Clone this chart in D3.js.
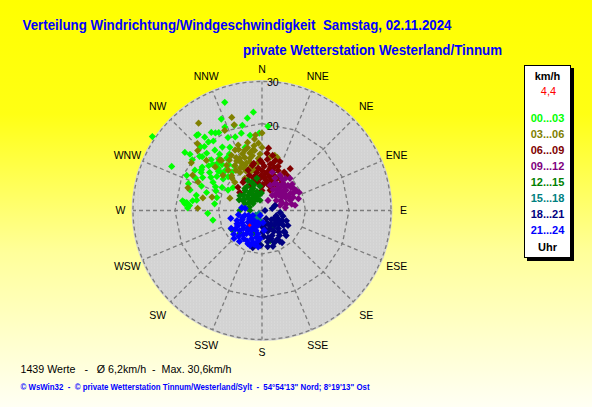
<!DOCTYPE html>
<html><head><meta charset="utf-8">
<script src="https://cdn.jsdelivr.net/npm/d3@7"></script>
<style>html,body{margin:0;padding:0;overflow:hidden;background:#ffff00}svg{display:block}</style>
</head><body>
<svg id="chart" width="592" height="407"></svg>
<script>
// ---------- DATA ----------
const titleLine1 = "Verteilung Windrichtung/Windgeschwindigkeit  Samstag, 02.11.2024";
const titleLine2 = "private Wetterstation Westerland/Tinnum";
const footerLine1 = "1439 Werte   -   Ø 6,2km/h  -  Max. 30,6km/h";
const footerLine2 = "© WsWin32  -  © private Wetterstation Tinnum/Westerland/Sylt  -  54°54'13\" Nord; 8°19'13\" Ost";
const directionLabels = ["N","NNE","NE","ENE","E","ESE","SE","SSE","S","SSW","SW","WSW","W","WNW","NW","NNW"];
const speedTicks = [10, 20, 30];
const speedMax = 30;
const legendUnit = "km/h";
const currentSpeedLabel = "4,4";
const legendFooter = "Uhr";
const hourRanges = ["00...03","03...06","06...09","09...12","12...15","15...18","18...21","21...24"];

// [direction in degrees, speed in km/h]
const wind00_03 = [
[304,30.4],[336,23.0],[355,22.7],[347,20.1],[307,22.2],[296,23.1],[276,17.4],[279,15.2],[329,20.8],[320,22.8],[341,26.3],[4,19.4],[259,11.5],[267,12.5],[276,17.9],[308,8.5],[314,14.0],
[319,22.9],[327,21.4],[336,21.0],[342,20.6],[345,18.4],[351,17.5],[358,17.8],[345,15.0],[322,20.0],[316,18.3],[306,19.8],[301,18.0],[299,15.6],[300,13.0],[300,10.6],[301,9.1],[286,17.2],[278,16.1],[288,13.4],[286,10.8],[317,14.9],[326,14.5],[333,16.3],[328,17.2],[322,17.6],[313,12.6],[322,11.2],[306,14.9],[306,17.0],[316,20.4],[322,21.4],[340,18.0],[351,21.5],[275,17.8],[272,17.1],[278,11.0],[295,19.1],[277,18.4],[274,16.7],
[310,16.0],[312,13.5],[318,12.5],[324,13.0],[309,11.5],[315,16.5],[320,15.5],[303,14.0],[297,12.0],[292,15.0],[311,19.0],[325,19.5],[330,15.0],[335,18.5],[318,19.8],[304,16.8],
[313,15.5],[319,14.0],[307,13.0],[315,11.0],[323,16.2],[328,12.0],[302,16.5],[296,17.0],[312,18.5],[331,20.5],[308,21.0],[290,18.0],[283,15.5],[293,11.5]
];
const wind03_06 = [
[324,24.8],[342,22.5],[0,17.8],[287,17.8],[272,14.8],
[336,15.2],[344,14.4],[353,13.9],[337,13.0],[347,12.3],[356,12.0],[329,12.1],[339,11.1],[349,10.6],[330,10.1],[343,9.2],[317,10.1],[332,8.4],[320,12.1],[340,16.0],[348,16.0],[357,15.5],[355,17.4],[9,12.4],[16,12.7],[352,9.3],[320,15.1],
[342,20.7],[335,20.3],[316,21.4],[313,20.2],[304,19.6],[297,17.9],[294,16.1],[312,17.2],[313,14.7],[321,14.8],[285,11.9],[291,7.9],[319,10.6],[312,12.1],[282,13.9],[316,9.0],[337,11.8],[342,12.8],[350,9.4],[351,14.0],[13,13.0],
[334,13.5],[341,13.8],[346,11.5],[338,9.8],[333,11.0],[327,13.8],[344,10.2],[350,12.8],[355,11.0],[336,12.2],
[331,14.5],[339,15.0],[347,14.8],[353,15.0],[333,12.8],[342,11.5],[348,13.5],[358,13.0],[345,9.8],[337,10.5],[327,11.0],[322,13.2],[354,16.5],[0,14.5]
];
const wind06_09 = [
[5,13.2],[20,12.0],[36,9.9],[341,9.8],[314,7.7],
[349,8.2],[0,9.2],[11,9.9],[22,9.9],[352,6.5],[8,7.0],[22,7.5],[36,7.9],[334,6.4],[0,4.6],[22,5.0],[335,3.8],[330,8.0],[358,11.5],[15,11.9],[34,11.6],[16,10.3],[348,10.6],[309,6.6],[326,7.8],[11,12.9],[6,14.4],
[5,8.5],[12,8.0],[2,6.0],[15,6.0],[28,9.0],[357,7.5],[345,6.8],[10,10.8],[28,6.8],[18,8.6],[0,11.0],[355,9.8],
[3,10.2],[8,9.0],[14,9.5],[20,10.8],[25,8.2],[30,10.2],[350,11.0],[352,8.8],[358,8.0],[4,7.5],[10,6.4],[17,7.2],[24,6.2],[32,8.3],[340,8.6],[345,7.8],[359,5.5],[6,11.8],[13,11.2]
];
const wind09_12 = [
[61,8.2],[38,7.9],[59,7.6],[74,4.3],[15,9.1],
[22,8.0],[36,9.1],[18,6.1],[36,6.3],[46,8.3],[60,9.1],[34,4.2],[57,5.5],[70,6.9],[72,8.8],[69,3.2],[31,2.7],[83,5.4],[81,7.7],[27,9.1],[41,9.8],[64,9.5],[55,4.0],
[45,6.0],[50,7.2],[40,5.0],[30,7.0],[52,8.5],[65,7.0],[28,5.4],[44,7.6],[75,5.8],[58,6.5],
[33,8.5],[39,7.0],[48,6.8],[53,6.0],[62,6.2],[67,7.8],[56,8.9],[49,9.2],[42,4.6],[63,4.8],[78,7.0],[35,5.8],[25,6.8],[70,5.0],[47,5.2]
];
const wind12_15 = [
[340,6.9],[298,5.0],[238,8.2],[183,7.9],
[322,6.4],[338,5.5],[355,5.6],[304,6.1],[317,4.7],[338,3.7],[292,4.2],[308,2.6],[349,2.4],[270,5.1],[270,2.8],[351,7.5],[335,7.6],
[224,7.3],[165,7.2],[205,3.8],[180,2.8],
[325,5.0],[315,3.3],[330,4.4],[345,4.5],[300,3.5],[320,6.0],[285,3.0],[200,5.5],[150,4.5],
[328,6.5],[333,5.2],[343,6.2],[348,3.6],[310,5.5],[312,4.2],[326,3.6],[302,4.8],[295,5.8],[318,2.9],[358,4.0],[336,2.8]
];
const wind15_18 = [
[220,2.0],[230,2.5],[210,1.5],[240,3.0],[215,3.2],[225,1.0],[200,2.2],[235,1.8]
];
const wind18_21 = [
[158,6.2],[194,8.8],[167,6.4],[134,7.3],
[90,0.7],[79,2.4],[96,4.2],[153,2.1],[124,3.3],[117,5.2],[120,6.9],[180,3.7],[156,4.5],[138,5.6],[136,8.0],[176,6.0],[159,7.9],[148,8.7],[187,7.9],[69,3.2],[171,8.4],
[140,4.5],[130,4.2],[150,5.5],[165,5.0],[145,7.0],[125,6.0],[110,3.5],[160,3.0],[172,4.2],[135,3.0],
[128,5.0],[142,6.4],[152,7.5],[162,6.8],[170,7.3],[118,4.3],[133,7.0],[146,3.8],[155,3.5],[168,3.3],[178,5.0],[105,5.0],[113,6.1],[150,8.2],[163,8.6],[182,8.0]
];
const wind21_24 = [
[242,6.5],[225,9.1],[203,8.3],[278,4.7],
[254,4.1],[241,2.4],[200,1.2],[239,5.4],[225,3.9],[198,2.9],[175,2.8],[228,6.9],[215,5.6],[197,4.8],[174,4.6],[213,7.7],[200,6.9],[184,6.5],[199,8.5],[186,8.4],[256,7.4],[277,3.9],
[210,4.5],[220,5.0],[230,4.2],[205,6.0],[190,5.5],[218,7.0],[235,7.5],[245,5.0],[195,3.5],[212,3.0],[188,7.2],[222,8.0],
[208,5.2],[214,6.4],[226,6.0],[232,5.5],[238,6.6],[248,6.2],[250,4.8],[236,3.5],[226,3.0],[216,4.0],[202,4.2],[192,6.3],[196,7.6],[206,7.8],[230,8.5],[240,8.2],[250,3.3],[260,5.5],[216,8.8],[193,8.0]
];
const currentWind = [[220, 4.4]];

// ---------- STYLE ----------
const groupColors = ["#00ff00","#808000","#800000","#800080","#008000","#008080","#000080","#0000ff"];
const groups = [wind00_03, wind03_06, wind06_09, wind09_12, wind12_15, wind15_18, wind18_21, wind21_24];
const W = 592, H = 407;
const cx = 262, cy = 210.5, R = 130.5;
const font = "'Liberation Sans', Arial, sans-serif";

const svg = d3.select("#chart");
const defs = svg.append("defs");
const bg = defs.append("linearGradient").attr("id","bg").attr("x1",0).attr("y1",0).attr("x2",0).attr("y2",1);
[[0,"#ffff00"],[0.28,"#ffff14"],[0.62,"#ffff9a"],[1,"#fffff4"]].forEach(s=>bg.append("stop").attr("offset",s[0]).attr("stop-color",s[1]));
const pat = defs.append("pattern").attr("id","dots").attr("width",3).attr("height",3).attr("patternUnits","userSpaceOnUse");
pat.append("rect").attr("width",3).attr("height",3).attr("fill","#d3d3d3");
pat.append("rect").attr("width",1).attr("height",1).attr("fill","#dcdcdc");

svg.append("rect").attr("width",W).attr("height",H).attr("fill","url(#bg)");

// titles
svg.append("text").attr("x",22.5).attr("y",30).attr("font-family",font).attr("font-weight","bold")
  .attr("font-size",14).attr("fill","#0000ff").style("white-space","pre")
  .attr("textLength",429).attr("lengthAdjust","spacingAndGlyphs").text(titleLine1);
svg.append("text").attr("x",243).attr("y",54.5).attr("font-family",font).attr("font-weight","bold")
  .attr("font-size",14).attr("fill","#0000ff").style("white-space","pre")
  .attr("textLength",259).attr("lengthAdjust","spacingAndGlyphs").text(titleLine2);

// scales
const rScale = d3.scaleLinear().domain([0, speedMax]).range([0, R]);
const aScale = d3.scaleLinear().domain([0, 360]).range([0, 2*Math.PI]);
const dirAngles = directionLabels.map((d,i)=> i*360/directionLabels.length);

const plot = svg.append("g").attr("transform",`translate(${cx},${cy})`);
plot.append("circle").attr("r",R).attr("fill","url(#dots)");

// grid rings
const ringLine = d3.lineRadial().curve(d3.curveLinearClosed);
const gridStyle = sel => sel.attr("fill","none").attr("stroke","#7c7c7c").attr("stroke-width",1.3).attr("stroke-dasharray","4,3");
speedTicks.forEach(v=>{
  if (v === speedMax) {
    plot.append("circle").attr("r", rScale(v)-1.5).call(gridStyle);
  } else {
    plot.append("path").attr("d", ringLine(dirAngles.map(a=>[aScale(a), rScale(v)]))).call(gridStyle);
  }
});
dirAngles.forEach((a,i)=>{
  const r0 = (i%4===0) ? 0 : rScale(speedTicks[0]);
  const p0 = d3.pointRadial(aScale(a), r0), p1 = d3.pointRadial(aScale(a), rScale(speedMax)-1.5);
  plot.append("line").attr("x1",p0[0]).attr("y1",p0[1]).attr("x2",p1[0]).attr("y2",p1[1]).call(gridStyle);
});

// speed tick labels
speedTicks.forEach(v=>{
  plot.append("text").attr("x",5).attr("y",-rScale(v)+2.5).attr("dy","0.35em")
    .attr("font-family",font).attr("font-size",10.5).attr("fill","#000").text(v);
});

// direction labels
directionLabels.forEach((lab,i)=>{
  const a = aScale(dirAngles[i]);
  const rr = R + 11 + 6*Math.abs(Math.sin(2*a));
  const p = d3.pointRadial(a, rr);
  plot.append("text").attr("x",p[0]).attr("y",p[1]).attr("dy","0.36em").attr("text-anchor","middle")
    .attr("font-family",font).attr("font-size",10.5).attr("fill","#000").text(lab);
});

// points
const diamond = "M0,-3.6L3.6,0L0,3.6L-3.6,0Z";
groups.forEach((g,gi)=>{
  plot.append("g").selectAll("path").data(g).join("path")
    .attr("d", diamond)
    .attr("transform", d=>{const p=d3.pointRadial(aScale(d[0]), rScale(d[1])); return `translate(${p[0]},${p[1]})`;})
    .attr("fill", groupColors[gi]);
});
plot.append("g").selectAll("path").data(currentWind).join("path")
  .attr("d","M0,-2L2,0L0,2L-2,0Z")
  .attr("transform", d=>{const p=d3.pointRadial(aScale(d[0]), rScale(d[1])); return `translate(${p[0]},${p[1]})`;})
  .attr("fill","#ff0000");

// legend
const lg = svg.append("g");
lg.append("rect").attr("x",527).attr("y",68).attr("width",47).attr("height",193).attr("fill","#000");
lg.append("rect").attr("x",524.5).attr("y",65.5).attr("width",46).attr("height",192).attr("fill","#fff").attr("stroke","#000").attr("stroke-width",1);
const lx = 547.5;
lg.append("text").attr("x",lx).attr("y",75.7).attr("dy","0.36em").attr("text-anchor","middle").attr("font-family",font)
  .attr("font-weight","bold").attr("font-size",11).attr("fill","#000").text(legendUnit);
lg.append("text").attr("x",lx+1).attr("y",91).attr("dy","0.36em").attr("text-anchor","middle").attr("font-family",font)
  .attr("font-size",11).attr("fill","#ff0000").text(currentSpeedLabel);
hourRanges.forEach((h,i)=>{
  lg.append("text").attr("x",lx).attr("y",117.7+16.1*i).attr("dy","0.36em").attr("text-anchor","middle").attr("font-family",font)
    .attr("font-weight","bold").attr("font-size",11).attr("fill",groupColors[i]).text(h);
});
lg.append("text").attr("x",lx).attr("y",246.7).attr("dy","0.36em").attr("text-anchor","middle").attr("font-family",font)
  .attr("font-weight","bold").attr("font-size",11).attr("fill","#000").text(legendFooter);

// footers
svg.append("text").attr("x",20.5).attr("y",373).attr("font-family",font).attr("font-size",11.5).attr("fill","#000")
  .style("white-space","pre").attr("textLength",211).attr("lengthAdjust","spacingAndGlyphs").text(footerLine1);
svg.append("text").attr("x",20.5).attr("y",390).attr("font-family",font).attr("font-weight","bold").attr("font-size",8.5).attr("fill","#0000ff")
  .style("white-space","pre").attr("textLength",349).attr("lengthAdjust","spacingAndGlyphs").text(footerLine2);
</script>
</body></html>
